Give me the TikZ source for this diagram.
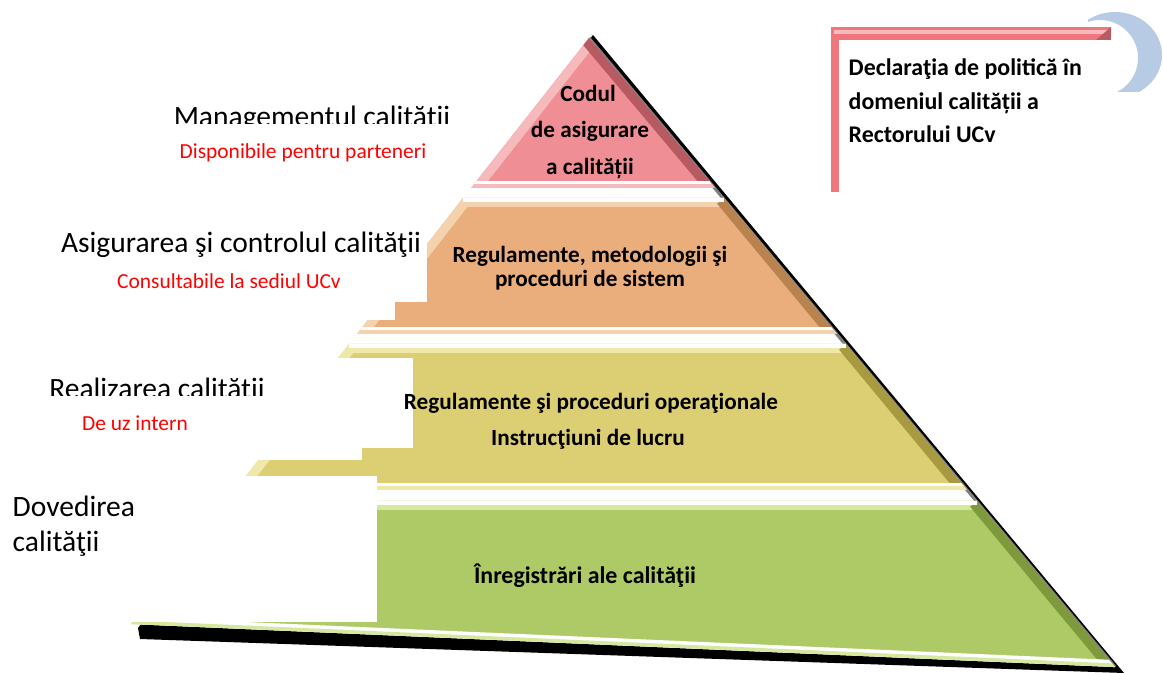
\documentclass[tikz,border=0pt]{standalone}
\usepackage{fontspec}
\setmainfont{Carlito}
\usetikzlibrary{positioning}
\definecolor{redFace}{HTML}{EF8F95}
\definecolor{redLight}{HTML}{F6B9BC}
\definecolor{redDark}{HTML}{B85A62}
\definecolor{orFace}{HTML}{EAAD7C}
\definecolor{orLight}{HTML}{F5D2AE}
\definecolor{orDark}{HTML}{B9834F}
\definecolor{yeFace}{HTML}{DCCE72}
\definecolor{yeLight}{HTML}{F0E8A8}
\definecolor{yeDark}{HTML}{A89A40}
\definecolor{grFace}{HTML}{ADCA66}
\definecolor{grLight}{HTML}{D6E7A0}
\definecolor{grDark}{HTML}{7F9A3C}
\definecolor{frameRed}{HTML}{F0767D}
\definecolor{logoBlue}{HTML}{B7CBE5}
% one bevelled tier: corners TL, TR, BR, BL, then face, light and dark colours
\newcommand{\tier}[7]{%
\begin{scope}
\clip #1 -- #2 -- #3 -- #4 -- cycle;
\fill[#5] #1 -- #2 -- #3 -- #4 -- cycle;
\draw[#6, line width=1.8mm] #4 -- #1 -- #2;
\draw[#7, line width=1.8mm] #2 -- #3;
\draw[white, line width=1.4mm] #3 -- #4;
\draw[#6, line width=0.7mm] #3 -- #4;
\draw[white, line width=0.8mm] #1 -- #2;
\end{scope}}

\begin{document}
\begin{tikzpicture}[x=0.1mm,y=-0.1mm,
lab/.style={font=\fontsize{8.4}{10}\selectfont, inner sep=0, anchor=base},
sub/.style={font=\fontsize{6.1}{7}\selectfont, text=red, inner sep=0, anchor=base},
tiertext/.style={font=\bfseries\fontsize{6.6}{8}\selectfont, inner sep=0, anchor=base},
cover/.style={fill=white}]
\useasboundingbox (0,0) rectangle (1163,673);
% corners of the pyramid
\coordinate (apex) at (589,38);
\coordinate (rBR) at (715,188);
\coordinate (rBL) at (471,188);
\coordinate (oTL) at (463,198);
\coordinate (oTR) at (724,198);
\coordinate (oBR) at (837,334);
\coordinate (oBL) at (357,334);
\coordinate (yTL) at (349,344);
\coordinate (yTR) at (846,344);
\coordinate (yBR) at (967,490);
\coordinate (yBL) at (235,490);
\coordinate (gTL) at (227,501);
\coordinate (gTR) at (977,501);
\coordinate (gBR) at (1115,667);
\coordinate (gBL) at (131,624);
% shadow
\fill[black] (593,35) -- (1124,673) -- (140,639) -- (138,628) -- cycle;
\fill[white] (apex) -- (gBR) -- (gBL) -- cycle;
\draw[gray, line width=0.3mm] (apex) -- (gBR);
% tiers
\tier{(apex)}{(apex)}{(rBR)}{(rBL)}{redFace}{redLight}{redDark}
\tier{(oTL)}{(oTR)}{(oBR)}{(oBL)}{orFace}{orLight}{orDark}
\tier{(yTL)}{(yTR)}{(yBR)}{(yBL)}{yeFace}{yeLight}{yeDark}
\tier{(gTL)}{(gTR)}{(gBR)}{(gBL)}{grFace}{grLight}{grDark}
% white patches over the left side
\fill[cover] (0,200) rectangle (427,302);
\fill[cover] (0,302) rectangle (395,320);
\fill[cover] (0,358) rectangle (413,448);
\fill[cover] (0,448) rectangle (362,460);
\fill[cover] (0,476) rectangle (377,622);
% texts in the tiers
\node[tiertext] (codul1) at (588,102) {Codul};
\node[tiertext] (codul2) at (590,138) {de asigurare};
\node[tiertext] (codul3) at (590,175) {a calității};
\node[tiertext] (sistem1) at (590,263) {Regulamente, metodologii şi};
\node[tiertext] (sistem2) at (590,287) {proceduri de sistem};
\node[tiertext] (oper1) at (591,410) {Regulamente şi proceduri operaţionale};
\node[tiertext] (oper2) at (588,446) {Instrucţiuni de lucru};
\node[tiertext, font=\bfseries\fontsize{6.8}{8}\selectfont] (inreg) at (585,584) {Înregistrări ale calităţii};
% labels on the left
\begin{scope}
\clip (100,80) rectangle (480,124);
\node[lab] (mgmt) at (312,127) {Managementul calității};
\end{scope}
\node[sub] (disp) at (303,159) {Disponibile pentru parteneri};
\node[lab] (asig) at (241,253) {Asigurarea şi controlul calităţii};
\node[sub] (cons) at (229,289) {Consultabile la sediul UCv};
\begin{scope}
\clip (20,360) rectangle (300,396);
\node[lab] (real) at (157,399) {Realizarea calității};
\end{scope}
\node[sub] (uz) at (135,431) {De uz intern};
\node[lab, anchor=base west] (dov1) at (12,517) {Dovedirea};
\node[lab, anchor=base west] (dov2) at (12,552) {calităţii};
% logo arc
\begin{scope}
\clip (1088,0) rectangle (1163,92);
\fill[logoBlue, even odd rule] (1115,55) ellipse [x radius=47, y radius=43] (1100,58) circle [radius=38];
\end{scope}
% policy box
\fill[frameRed] (831,27) rectangle (1111,192);
\fill[redLight] (834,30) rectangle (1108,34);
\fill[redDark] (1096,40) -- (1111,27) -- (1111,40) -- cycle;
\fill[white] (839,40) rectangle (1116,196);
\node[anchor=base west, inner sep=0, font=\bfseries\fontsize{6.8}{8}\selectfont] (decl1) at (848,76) {Declaraţia de politică în};
\node[anchor=base west, inner sep=0, font=\bfseries\fontsize{6.8}{8}\selectfont] (decl2) at (848,110) {domeniul calității a};
\node[anchor=base west, inner sep=0, font=\bfseries\fontsize{6.8}{8}\selectfont] (decl3) at (848,143) {Rectorului UCv};
\end{tikzpicture}
\end{document}
